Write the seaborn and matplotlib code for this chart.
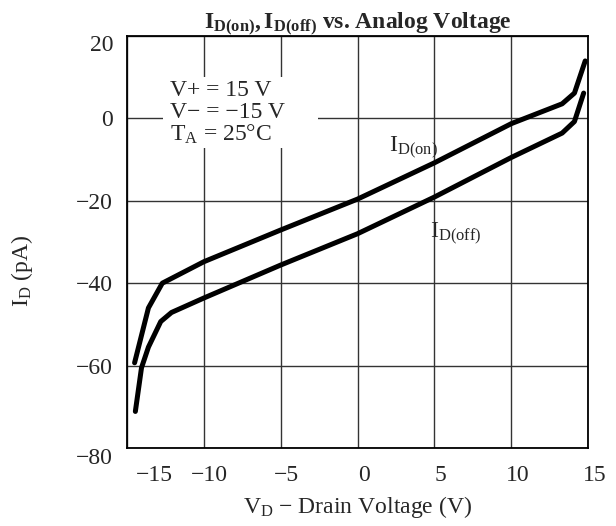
import matplotlib
matplotlib.use("Agg")
import matplotlib.pyplot as plt
import matplotlib.transforms as mtransforms
from matplotlib.patches import Rectangle
import numpy as np
import pandas as pd
import seaborn as sns

# ---- data ----
on_v = [-14.5, -13.6, -12.7, -10, -5, 0, 5, 10, 13.3, 14.1, 14.8]
on_i = [-59.3, -46.0, -40.0, -34.8, -27.1, -19.6, -10.8, -1.3, 3.5, 6.1, 13.9]
off_v = [-14.45, -14.05, -13.6, -12.8, -12.1, -10, -5, 0, 5, 10, 13.3, 14.1, 14.7]
off_i = [-71.1, -60.5, -55.5, -49.3, -47.1, -43.6, -35.6, -28.0, -19.1, -9.5, -3.6, -0.8, 6.1]
x_ticks = [-15, -10, -5, 0, 5, 10, 15]
y_ticks = [20, 0, -20, -40, -60, -80]
conditions = ["V+ = 15 V", "V\u2212 = \u221215 V", "T$_\\mathrm{A}$ = 25\u00b0C"]

sns.set_style("white")
plt.rcParams["font.family"] = ["Liberation Serif", "DejaVu Serif"]
plt.rcParams["mathtext.fontset"] = "custom"
plt.rcParams["mathtext.rm"] = "Liberation Serif"
plt.rcParams["mathtext.it"] = "Liberation Serif"
plt.rcParams["mathtext.bf"] = "Liberation Serif:bold"
plt.rcParams["axes.unicode_minus"] = True

FS = 17

df = pd.concat([
    pd.DataFrame({"V": on_v, "I": on_i, "s": "on"}),
    pd.DataFrame({"V": off_v, "I": off_i, "s": "off"}),
])

fig = plt.figure(figsize=(6.16, 5.26), dpi=100)
ax = fig.add_axes([0.206, 0.148, 0.749, 0.784])

sns.lineplot(data=df, x="V", y="I", hue="s", units="s", estimator=None, sort=False,
             palette={"on": "black", "off": "black"}, linewidth=3.6, legend=False,
             ax=ax, zorder=3)

ax.set_xlim(-15, 15)
ax.set_ylim(-80, 20)
ax.set_xticks(x_ticks)
ax.set_yticks(y_ticks)
ax.set_xticklabels([f"{v}".replace("-", "\u2212") for v in x_ticks], fontsize=FS)
ax.set_yticklabels([f"{v}".replace("-", "\u2212") for v in y_ticks], fontsize=FS)
ax.grid(True, color="#333333", linewidth=1.0)
ax.set_axisbelow(True)
ax.tick_params(axis="x", length=0, pad=12)
ax.tick_params(axis="y", length=0, pad=10)
for s in ax.spines.values():
    s.set_color("black")
    s.set_linewidth(1.3)

# nudge tick labels like the reference
for i, lab in enumerate(ax.get_xticklabels()):
    dx = 0.27 if i == 0 else 0.06
    lab.set_transform(lab.get_transform() + mtransforms.ScaledTranslation(dx, 0, fig.dpi_scale_trans))
yl = ax.get_yticklabels()
yl[0].set_transform(yl[0].get_transform() + mtransforms.ScaledTranslation(0, -0.07, fig.dpi_scale_trans))
yl[-1].set_transform(yl[-1].get_transform() + mtransforms.ScaledTranslation(0, -0.08, fig.dpi_scale_trans))

ax.set_xlabel("V$_\\mathrm{D}$ \u2212 Drain Voltage (V)", fontsize=FS, labelpad=6)
ax.set_ylabel("I$_\\mathrm{D}$ (pA)", fontsize=FS)
ax.yaxis.set_label_coords(-0.2, 0.43)
ax.set_title("$\\mathbf{I_{D(on)}, I_{D(off)}}$ vs. Analog Voltage", fontsize=FS,
             fontweight="bold", pad=5)

# white box behind the condition text
ax.add_patch(Rectangle((0.078, 0.729), 0.336, 0.17, transform=ax.transAxes,
                       facecolor="white", edgecolor="none", zorder=1.5))
for frac, line in zip([0.868, 0.815, 0.76], conditions):
    ax.text(0.093, frac, line, transform=ax.transAxes, fontsize=FS,
            va="center", ha="left", zorder=2)

ax.text(0.568, 0.729, "I$_\\mathrm{D(on)}$", transform=ax.transAxes, fontsize=FS,
        va="center", ha="left", zorder=4)
ax.text(0.657, 0.519, "I$_\\mathrm{D(off)}$", transform=ax.transAxes, fontsize=FS,
        va="center", ha="left", zorder=4)

fig.savefig("out.png", dpi=100)
